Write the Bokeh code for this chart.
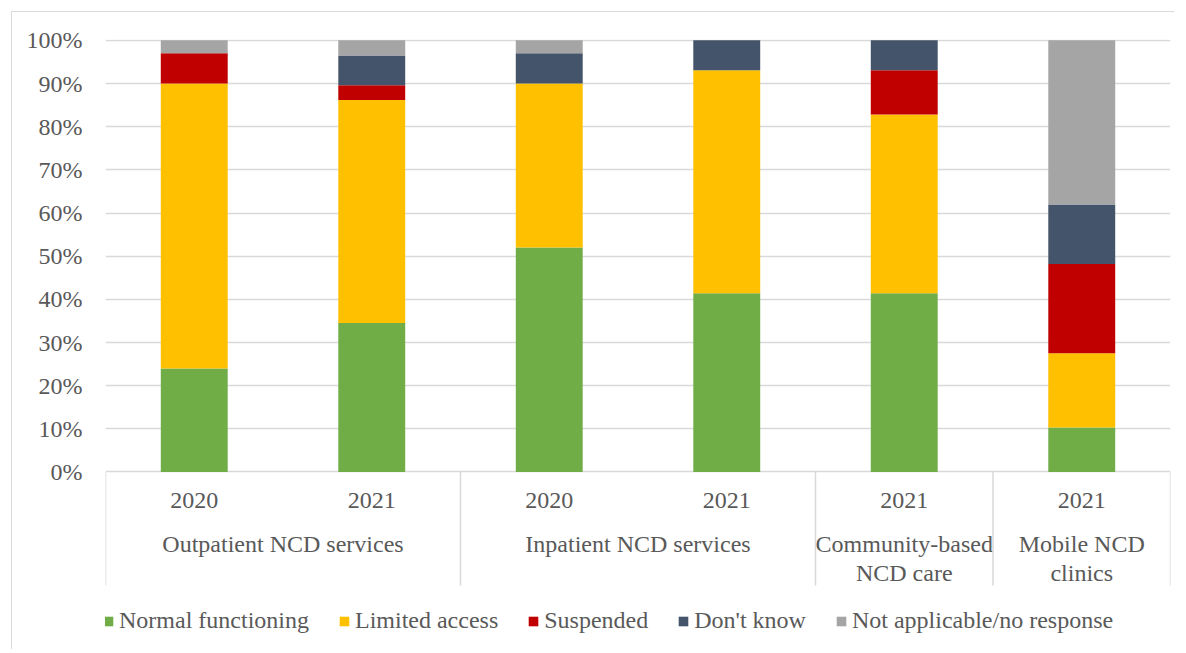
from bokeh.plotting import figure
from bokeh.models import ColumnDataSource, Range1d, FixedTicker, CustomJSTickFormatter
from bokeh.layouts import column
from bokeh.core.properties import value
from bokeh.embed import file_html
from bokeh.resources import INLINE

# ---- data ----
years = ["2020", "2021", "2020", "2021", "2021", "2021"]
groups = ["Outpatient NCD services", "Inpatient NCD services",
          "Community-based\nNCD care", "Mobile NCD\nclinics"]
group_sizes = [2, 2, 1, 1]
series = ["Normal functioning", "Limited access", "Suspended", "Don't know",
          "Not applicable/no response"]
normal = [24.0, 34.5, 52.0, 41.4, 41.4, 10.3]
limited = [66.0, 51.7, 38.0, 51.7, 41.4, 17.2]
suspended = [7.0, 3.4, 0.0, 0.0, 10.3, 20.7]
dont_know = [0.0, 6.9, 7.0, 6.9, 6.9, 13.8]
not_applicable = [3.0, 3.5, 3.0, 0.0, 0.0, 38.0]
y_ticks = [0, 10, 20, 30, 40, 50, 60, 70, 80, 90, 100]

colors = ["#70AD47", "#FFC000", "#C00000", "#44546A", "#A5A5A5"]
FONT = "Liberation Serif"
TXT = "#595959"
GRID = "#D9D9D9"

keys = ["normal", "limited", "suspended", "dont_know", "na"]
src = ColumnDataSource(dict(
    x=[i + 0.5 for i in range(len(years))],
    normal=normal, limited=limited, suspended=suspended,
    dont_know=dont_know, na=not_applicable))

p = figure(width=1162, height=637, output_backend="svg", toolbar_location=None,
           x_range=Range1d(0, len(years)), y_range=Range1d(-40.2, 100.2),
           min_border_left=93, min_border_right=4, min_border_top=27,
           min_border_bottom=4)
p.outline_line_color = None
p.background_fill_color = "white"
p.border_fill_color = "white"

p.vbar_stack(keys, x="x", width=0.377, source=src, color=colors,
             line_color=None, legend_label=series)

# axes
p.xaxis.visible = False
p.xgrid.visible = False
ya = p.yaxis[0]
ya.ticker = FixedTicker(ticks=y_ticks)
ya.formatter = CustomJSTickFormatter(code="return tick + '%';")
ya.axis_line_color = None
ya.major_tick_line_color = None
ya.minor_tick_line_color = None
ya.major_tick_out = 0
ya.major_tick_in = 0
ya.major_label_standoff = 23
ya.major_label_text_font = FONT
ya.major_label_text_font_size = "24px"
ya.major_label_text_color = TXT
p.ygrid.ticker = FixedTicker(ticks=y_ticks)
p.ygrid.grid_line_color = GRID
p.ygrid.grid_line_width = 1.5

# category labels (hierarchical axis drawn inside the frame)
p.text(x=[i + 0.5 for i in range(len(years))], y=[-6.6] * len(years), text=years,
       text_font=value(FONT), text_font_size="24px", text_color=TXT,
       text_align="center", text_baseline="middle")
starts = []
s = 0
for n in group_sizes:
    starts.append(s)
    s += n
gx = [st + n / 2 for st, n in zip(starts, group_sizes)]
p.text(x=gx, y=[-16.8] * len(groups), text=groups,
       text_font=value(FONT), text_font_size="24px", text_color=TXT,
       text_align="center", text_baseline="top", text_line_height=1.12,
       y_offset=-14)
bounds = starts + [s]
p.segment(x0=bounds, y0=[0] * len(bounds), x1=bounds, y1=[-26.3] * len(bounds),
          line_color=GRID, line_width=1.5)

lg = p.legend[0]
lg.orientation = "horizontal"
lg.location = (-3, 11)
lg.padding = 0
lg.margin = 0
lg.spacing = 29
lg.border_line_color = None
lg.background_fill_alpha = 0
lg.glyph_width = 12
lg.glyph_height = 12
lg.label_standoff = 5
lg.label_text_font = FONT
lg.label_text_font_size = "24px"
lg.label_text_color = TXT

layout = column(p, styles={"border-left": "1.5px solid #D9D9D9",
                           "border-top": "1.5px solid #D9D9D9",
                           "margin-left": "11px", "margin-top": "11px"})

open("out.html", "w").write(file_html(layout, INLINE))
